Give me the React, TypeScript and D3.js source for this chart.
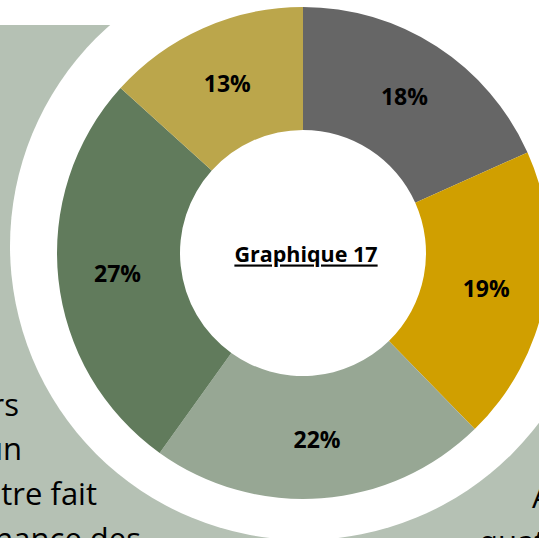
import React from "react";
import * as d3 from "d3";

const categories = ["A", "B", "C", "D", "E"];
const values = [18.3, 19.4, 22.2, 26.8, 13.3];
const labels = ["18%", "19%", "22%", "27%", "13%"];
const colors = ["#666666", "#D09F00", "#97A794", "#617B5C", "#BBA64B"];
const title = "Graphique 17";
const leftText = ["rs", "un", "tre fait", "nance des"];
const rightText = ["A", "quat"];

const W = 539;
const H = 538;
const cx = 303;
const cy = 253;
const rOuter = 246;
const rInner = 123;

export default function App() {
  const pie = d3.pie<number>().sort(null).value((d) => d);
  const arcs = pie(values);
  const arc = d3.arc<d3.PieArcDatum<number>>().innerRadius(rInner).outerRadius(rOuter);
  const labelArc = d3
    .arc<d3.PieArcDatum<number>>()
    .innerRadius((rInner + rOuter) / 2 + 2)
    .outerRadius((rInner + rOuter) / 2 + 2);

  const leftEnds = [19, 22, 97, 141];
  const leftBase = [416, 460, 505, 550];

  return (
    <svg
      width={W}
      height={H}
      style={{ position: "fixed", left: 0, top: 0, background: "#fff" }}
      fontFamily="'Open Sans', sans-serif"
    >
      <rect x={0} y={25} width={304} height={H - 25} fill="#B5C1B4" />
      <rect x={304} y={250} width={W - 304} height={H - 250} fill="#B5C1B4" />
      {leftText.map((t, i) => (
        <text key={t} x={leftEnds[i]} y={leftBase[i]} textAnchor="end" fontSize={31} fill="#000">
          {t}
        </text>
      ))}
      <text x={532} y={508} fontSize={31} fill="#000">{rightText[0]}</text>
      <text x={479} y={553} fontSize={31} fill="#000">{rightText[1]}</text>
      <circle cx={304} cy={246} r={294} fill="#fff" />
      <g transform={`translate(${cx},${cy})`}>
        {arcs.map((a, i) => (
          <path key={categories[i]} d={arc(a) || ""} fill={colors[i]} />
        ))}
        {arcs.map((a, i) => {
          const [x, y] = labelArc.centroid(a);
          return (
            <text
              key={"l" + i}
              x={x}
              y={y}
              textAnchor="middle"
              dominantBaseline="central"
              fontSize={23}
              fontWeight="bold"
              fill="#000"
            >
              {labels[i]}
            </text>
          );
        })}
        <text
          x={3}
          y={0}
          textAnchor="middle"
          dominantBaseline="central"
          fontSize={21.5}
          fontWeight="bold"
          textDecoration="underline"
          fill="#000"
        >
          {title}
        </text>
      </g>
    </svg>
  );
}
